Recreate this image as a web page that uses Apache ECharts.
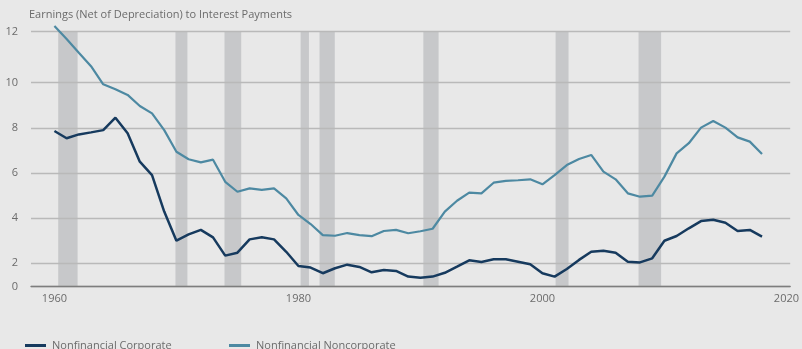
<!DOCTYPE html>
<html>
<head>
<meta charset="utf-8">
<title>Earnings (Net of Depreciation) to Interest Payments</title>
<script src="https://cdn.jsdelivr.net/npm/echarts@6/dist/echarts.min.js"></script>
<style>
  html, body { margin: 0; padding: 0; background: #e8e8e8; }
  #chart { width: 802px; height: 349px; }
</style>
</head>
<body>
<div id="chart"></div>
<script>
// Annual observations, 1960–2018
const years = Array.from({ length: 59 }, (_, i) => 1960 + i);

const corporate = [
  7.86, 7.54, 7.71, 7.80, 7.90, 8.45, 7.76, 6.50, 5.91, 4.29,
  3.00, 3.28, 3.48, 3.15, 2.34, 2.47, 3.06, 3.15, 3.06, 2.51,
  1.88, 1.81, 1.56, 1.78, 1.94, 1.84, 1.60, 1.70, 1.66, 1.41,
  1.36, 1.41, 1.58, 1.85, 2.13, 2.06, 2.18, 2.18, 2.07, 1.96,
  1.56, 1.41, 1.75, 2.15, 2.51, 2.56, 2.47, 2.07, 2.04, 2.22,
  3.00, 3.21, 3.55, 3.87, 3.93, 3.80, 3.43, 3.48, 3.18
];

const noncorporate = [
  12.51, 11.94, 11.33, 10.73, 9.93, 9.71, 9.46, 8.97, 8.64, 7.90,
  6.94, 6.61, 6.47, 6.59, 5.61, 5.17, 5.32, 5.25, 5.32, 4.88,
  4.14, 3.74, 3.25, 3.22, 3.34, 3.25, 3.20, 3.43, 3.48, 3.33,
  3.42, 3.53, 4.29, 4.77, 5.13, 5.10, 5.57, 5.65, 5.68, 5.72,
  5.50, 5.91, 6.35, 6.62, 6.80, 6.06, 5.72, 5.10, 4.95, 5.00,
  5.84, 6.87, 7.32, 8.01, 8.30, 8.01, 7.58, 7.39, 6.84
];

// Shaded recession periods (fractional years)
const recessionStart = [1960.31, 1969.92, 1973.94, 1980.18, 1981.73, 1990.24, 2001.08, 2007.88];
const recessionEnd   = [1961.90, 1970.90, 1975.31, 1980.86, 1982.98, 1991.49, 2002.14, 2009.73];

// Axis ticks
const xTickYears = [1960, 1980, 2000, 2020];
const yInnerTicks = [2, 4, 6, 8, 10];
const yBottom = 0.963;   // baseline, labelled "0"
const yTop = 12.26;      // top rule, labelled "12"
const xStart = 1958.08;
const xEnd = 2020.31;

const FONT = '"Open Sans", "Noto Sans", sans-serif';
const TEXT = '#6b6b6b';

const chart = echarts.init(document.getElementById('chart'), null, { renderer: 'canvas' });

const legendBase = {
  top: 335,
  icon: 'rect',
  itemWidth: 21,
  itemHeight: 3,
  itemGap: 0,
  selectedMode: false,
  textStyle: { color: TEXT, fontFamily: FONT, fontSize: 11, padding: [0, 0, 0, 1] }
};

chart.setOption({
  backgroundColor: '#e8e8e8',
  animation: false,
  title: {
    text: 'Earnings (Net of Depreciation) to Interest Payments',
    left: 24,
    top: 4,
    textStyle: { color: TEXT, fontFamily: FONT, fontSize: 11, fontWeight: 'normal' }
  },
  legend: [
    Object.assign({}, legendBase, { left: 20, data: ['Nonfinancial Corporate'] }),
    Object.assign({}, legendBase, { left: 224, data: ['Nonfinancial Noncorporate'] })
  ],
  grid: { left: 31, right: 8.7, top: 31.7, bottom: 62.3, containLabel: false },
  xAxis: {
    type: 'value',
    min: xStart,
    max: xEnd,
    z: 1.5,
    axisLine: { show: true, lineStyle: { color: '#7d7d7d', width: 1.3 } },
    axisTick: { show: false },
    splitLine: { show: false },
    axisLabel: {
      customValues: xTickYears,
      margin: 7,
      color: TEXT,
      fontFamily: FONT,
      fontSize: 11,
      formatter: v => String(Math.round(v))
    }
  },
  yAxis: {
    type: 'value',
    min: yBottom,
    max: yTop,
    z: 1.5,
    axisLine: { show: false },
    axisTick: { show: false, customValues: [yBottom].concat(yInnerTicks, [yTop]) },
    splitLine: { show: true, lineStyle: { color: '#b9b9b9', width: 1.3 } },
    axisLabel: {
      customValues: [yBottom].concat(yInnerTicks, [yTop]),
      margin: 13,
      color: TEXT,
      fontFamily: FONT,
      fontSize: 11,
      formatter: v => {
        if (Math.abs(v - yBottom) < 1e-6) return '0';
        if (Math.abs(v - yTop) < 1e-6) return '12';
        return String(Math.round(v));
      }
    }
  },
  series: [
    {
      name: 'recessions',
      type: 'line',
      data: [],
      silent: true,
      z: 0.5,
      markArea: {
        silent: true,
        z: 0.5,
        itemStyle: { color: '#c7c8ca', opacity: 1 },
        data: recessionStart.map((s, i) => [{ xAxis: s }, { xAxis: recessionEnd[i] }])
      }
    },
    {
      name: 'Nonfinancial Corporate',
      type: 'line',
      z: 3,
      symbol: 'none',
      clip: false,
      color: '#163a5e',
      lineStyle: { color: '#163a5e', width: 2.5 },
      data: years.map((y, i) => [y, corporate[i]])
    },
    {
      name: 'Nonfinancial Noncorporate',
      type: 'line',
      z: 3,
      symbol: 'none',
      clip: false,
      color: '#4d89a2',
      lineStyle: { color: '#4d89a2', width: 2.2 },
      data: years.map((y, i) => [y, noncorporate[i]])
    }
  ]
});
</script>
</body>
</html>
